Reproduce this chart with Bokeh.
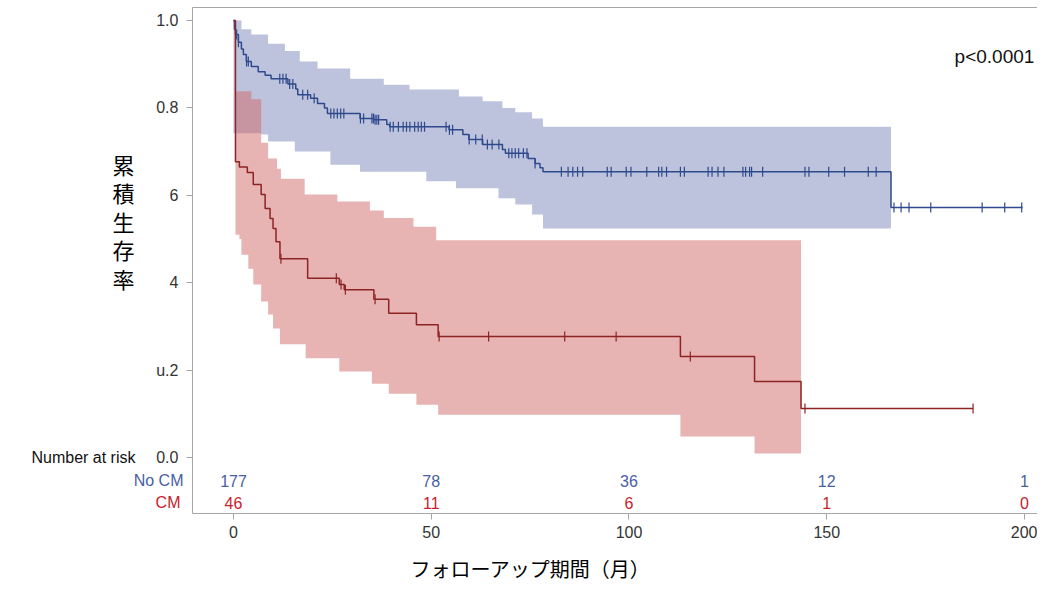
import numpy as np
from bokeh.plotting import figure
from bokeh.models import Range1d, FixedTicker, Label, LinearAxis
from bokeh.core.properties import value
from bokeh.embed import file_html
from bokeh.resources import INLINE

# ---------------- data ----------------
# No CM group: Kaplan-Meier step curve
nocm_t = [0, 0.25, 0.5, 1.25, 2, 2.5, 3.25, 4.5, 6.25, 8, 9.5, 13.75, 15.75, 16.25, 19.5, 21.25,
          23, 23.75, 32, 35.5, 38.75, 39.5, 54.5, 58, 59.5, 63, 68, 68.75, 74.5, 76.25, 77.5,
          78.25, 166.25]
nocm_s = [1.0, 0.98, 0.968, 0.95, 0.935, 0.922, 0.906, 0.895, 0.883, 0.875, 0.867, 0.855, 0.843,
          0.83, 0.822, 0.81, 0.80, 0.787, 0.776, 0.773, 0.762, 0.757, 0.75, 0.739, 0.728, 0.716,
          0.705, 0.696, 0.684, 0.673, 0.663, 0.654, 0.572]
nocm_end = 199.5
nocm_up_t = [0, 2, 4.5, 8.75, 13, 16.75, 21.25, 29.5, 38, 44.5, 57, 63, 68, 71.25, 75.5, 78.25]
nocm_up = [1.0, 0.98, 0.968, 0.947, 0.93, 0.906, 0.89, 0.867, 0.853, 0.842, 0.826, 0.815, 0.80,
           0.79, 0.776, 0.757]
nocm_lo_t = [0, 7, 8.75, 15.5, 24.5, 32, 48.75, 56.25, 67, 71.25, 75.5, 78.25]
nocm_lo = [0.742, 0.739, 0.723, 0.70, 0.67, 0.654, 0.632, 0.616, 0.593, 0.579, 0.556, 0.524]
nocm_band_end = 166.25
nocm_cens = [0.8, 1.25, 3.3, 3.75, 11.7, 12.5, 13.3, 14.2, 15, 17.5, 18.75, 20.4, 24.6, 25.4,
             26.25, 27.1, 27.9, 32.1, 32.9, 35, 35.4, 35.8, 36.25, 36.7, 39.6, 40.4, 41.7, 42.9,
             43.75, 44.6, 45.8, 46.7, 47.5, 48.3, 53.75, 54.6, 55.4, 59.6, 61.25, 62.9, 64.2,
             65.4, 67.1, 69.6, 70.4, 71.25, 72.1, 73.3, 74.2, 76.25, 82.9, 84.6, 85.8, 87, 88.3,
             94.5, 95.5, 99.3, 100.5, 104.5, 107.5, 108.3, 109.5, 113, 114, 120, 121, 122.5, 124,
             128.8, 129.5, 130.5, 131, 133.8, 144.5, 145.5, 150.5, 154.5, 160.5, 162.5, 167,
             168.8, 170.8, 176.3, 189.3, 195, 199.3]

# CM group
cm_t = [0, 0.5, 1.5, 3.5, 5, 7, 8, 9.25, 10, 10.75, 11.75, 18.75, 26.75, 28, 35.5, 39.25,
        46.25, 51.75, 113, 131.75, 143.5]
cm_s = [1.0, 0.677, 0.665, 0.652, 0.625, 0.602, 0.57, 0.547, 0.524, 0.494, 0.455, 0.41, 0.396,
        0.384, 0.362, 0.33, 0.304, 0.277, 0.231, 0.174, 0.112]
cm_end = 187
cm_up_t = [0, 0.5, 4.5, 7, 8.75, 11, 12, 18, 26.25, 34.5, 38, 45.5, 51.25]
cm_up = [1.0, 0.838, 0.82, 0.72, 0.684, 0.661, 0.638, 0.602, 0.586, 0.565, 0.548, 0.528, 0.497]
cm_lo_t = [0, 0.5, 1.5, 2, 3.75, 5, 7, 8.75, 10, 11.75, 18.25, 26.75, 35, 39.25, 46.25, 51.75,
           113, 131.75]
cm_lo = [1.0, 0.51, 0.50, 0.464, 0.432, 0.396, 0.357, 0.327, 0.295, 0.259, 0.227, 0.197, 0.169,
         0.146, 0.121, 0.098, 0.048, 0.009]
cm_band_end = 143.5
cm_cens = [12.0, 26.0, 27.2, 28.3, 35.8, 52.0, 64.5, 83.75, 96.75, 115.5, 144.5, 187]

# number at risk
risk_t = [0, 50, 100, 150, 200]
risk_nocm = [177, 78, 36, 12, 1]
risk_cm = [46, 11, 6, 1, 0]
risk_labels = ["Number at risk", "No CM", "CM"]

x_ticks = [0, 50, 100, 150, 200]
y_ticks = [0, 0.2, 0.4, 0.6, 0.8, 1.0]
y_tick_text = {0: "0.0", 1: "1.0", 0.2: "u.2", 0.4: "4", 0.6: "6", 0.8: "0.8"}

# ---------------- helpers ----------------
def step_eval(ts, vs, q):
    ts = np.asarray(ts, float)
    vs = np.asarray(vs, float)
    idx = np.searchsorted(ts, np.asarray(q, float), side="right") - 1
    idx = np.clip(idx, 0, len(vs) - 1)
    return vs[idx]

def band(up_t, up, lo_t, lo, end):
    grid = sorted(set(up_t) | set(lo_t))
    grid = np.array(grid + [end], float)
    return grid, step_eval(up_t, up, grid), step_eval(lo_t, lo, grid)

LAT = "Liberation Sans"
JP = "Noto Sans CJK JP"
BLUE_LINE = "#2f4a8c"
RED_LINE = "#8e2323"
BLUE_TXT = "#4761a3"
RED_TXT = "#c8232c"
GREY = "#a6a6a6"

# box of the original chart (axis lines), in data units
X0, X1 = -10.37, 203.29
Y0, Y1 = -0.128, 1.0297

p = figure(width=1037, height=583, x_range=Range1d(-58.91, 203.29), y_range=Range1d(-0.2883, 1.0458),
           output_backend="svg", toolbar_location=None, x_axis_location=None, y_axis_location=None,
           min_border_left=0, min_border_right=0, min_border_top=0, min_border_bottom=0)
p.outline_line_color = None
p.grid.visible = False
p.background_fill_color = "white"

# confidence bands
bx, bu, bl = band(nocm_up_t, nocm_up, nocm_lo_t, nocm_lo, nocm_band_end)
p.varea_step(x=bx, y1=bl, y2=bu, step_mode="after", fill_color="#7b87b9", fill_alpha=0.5)
rx, ru, rl = band(cm_up_t, cm_up, cm_lo_t, cm_lo, cm_band_end)
p.varea_step(x=rx, y1=rl, y2=ru, step_mode="after", fill_color="#d16767", fill_alpha=0.5)

# survival curves
p.step(x=nocm_t + [nocm_end], y=nocm_s + [nocm_s[-1]], mode="after", line_color=BLUE_LINE, line_width=1.5)
p.step(x=cm_t + [cm_end], y=cm_s + [cm_s[-1]], mode="after", line_color=RED_LINE, line_width=1.5)

# censor marks
p.scatter(x=nocm_cens, y=step_eval(nocm_t, nocm_s, nocm_cens), marker="dash", angle=np.pi / 2,
          size=10, line_color=BLUE_LINE, line_width=1.2)
p.scatter(x=cm_cens, y=step_eval(cm_t, cm_s, cm_cens), marker="dash", angle=np.pi / 2,
          size=10, line_color=RED_LINE, line_width=1.2)

# number at risk table
p.text(x=risk_t, y=[-0.053] * len(risk_t), text=[str(v) for v in risk_nocm], text_align="center",
       text_baseline="middle", text_font=value(LAT), text_font_size="16px", text_color=BLUE_TXT)
p.text(x=risk_t, y=[-0.103] * len(risk_t), text=[str(v) for v in risk_cm], text_align="center",
       text_baseline="middle", text_font=value(LAT), text_font_size="16px", text_color=RED_TXT)
p.text(x=[-24.78, -12.64, -13.4], y=[0.0, -0.053, -0.103], text=risk_labels, text_align="right",
       text_baseline="middle", text_font=value(LAT), text_font_size="16px",
       text_color=["#111111", BLUE_TXT, RED_TXT])

# axes drawn at the chart box edges
xax = LinearAxis(fixed_location=Y0, bounds=(X0, X1), ticker=FixedTicker(ticks=x_ticks))
yax = LinearAxis(fixed_location=X0, bounds=(Y0, Y1), ticker=FixedTicker(ticks=y_ticks),
                 major_label_overrides=y_tick_text)
for ax in (xax, yax):
    ax.axis_line_color = GREY
    ax.major_tick_line_color = GREY
    ax.minor_tick_line_color = None
    ax.major_tick_in = 0
    ax.major_tick_out = 6
    ax.major_label_text_font = LAT
    ax.major_label_text_font_size = "16px"
    ax.major_label_text_color = "#333333"
xax.major_label_standoff = 7
yax.major_label_standoff = 8
top = LinearAxis(fixed_location=Y1, bounds=(X0, X1), ticker=FixedTicker(ticks=[]),
                 axis_line_color=GREY, major_tick_line_color=None, minor_tick_line_color=None,
                 major_label_text_font_size="0px")
p.add_layout(xax, "below")
p.add_layout(yax, "left")
p.add_layout(top, "above")

# other texts
for i, ch in enumerate("累積生存率"):
    p.add_layout(Label(x=-27.81, y=0.542, y_offset=(2 - i) * 28.5, text=ch, text_align="center",
                       text_baseline="middle", text_font=JP, text_font_size="22px", text_color="#000000"))
p.add_layout(Label(x=75.1, y=-0.254, text="フォローアップ期間（月）", text_align="center",
                   text_baseline="middle", text_font=JP, text_font_size="20px", text_color="#000000"))
p.add_layout(Label(x=202.5, y=0.918, text="p<0.0001", text_align="right", text_baseline="middle",
                   text_font=LAT, text_font_size="19px", text_color="#111111"))

open("out.html", "w").write(file_html(p, INLINE))
